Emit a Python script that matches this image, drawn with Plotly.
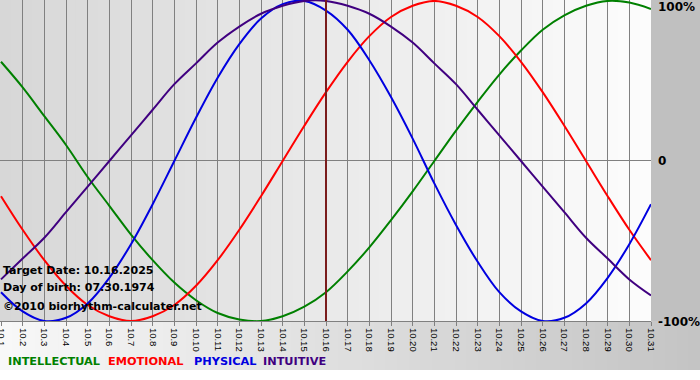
import plotly.graph_objects as go

dates = ["10.%d" % d for d in range(1, 32)]

intellectual = [0.62, 0.46, 0.28, 0.10, -0.10, -0.28, -0.46, -0.62, -0.76, -0.87,
                -0.95, -0.99, -1.00, -0.97, -0.91, -0.82, -0.69, -0.54, -0.37, -0.19,
                0.00, 0.19, 0.37, 0.54, 0.69, 0.82, 0.91, 0.97, 1.00, 0.99, 0.95]
emotional = [-0.22, -0.43, -0.62, -0.78, -0.90, -0.97, -1.00, -0.97, -0.90, -0.78,
             -0.62, -0.43, -0.22, 0.00, 0.22, 0.43, 0.62, 0.78, 0.90, 0.97,
             1.00, 0.97, 0.90, 0.78, 0.62, 0.43, 0.22, 0.00, -0.22, -0.43, -0.62]
physical = [-0.82, -0.94, -1.00, -0.98, -0.89, -0.73, -0.52, -0.27, 0.00, 0.27,
            0.52, 0.73, 0.89, 0.98, 1.00, 0.94, 0.82, 0.63, 0.40, 0.14,
            -0.14, -0.40, -0.63, -0.82, -0.94, -1.00, -0.98, -0.89, -0.73, -0.52, -0.27]
intuitive = [-0.74, -0.61, -0.48, -0.32, -0.16, 0.00, 0.16, 0.32, 0.48, 0.61,
             0.74, 0.84, 0.92, 0.97, 1.00, 1.00, 0.97, 0.92, 0.84, 0.74,
             0.61, 0.48, 0.32, 0.16, 0.00, -0.16, -0.32, -0.48, -0.61, -0.74, -0.84]

series_names = ["INTELLECTUAL", "EMOTIONAL", "PHYSICAL", "INTUITIVE"]
series_colors = ["#008000", "#ff0000", "#0000e0", "#400080"]
target_label = "10.16"
info_lines = ["Target Date: 10.16.2025", "Day of birth: 07.30.1974", "\u00a92010 biorhythm-calculater.net"]
right_labels = ["100%", "0", "-100%"]
right_values = [1, 0, -1]

W, H = 700, 380
L, R, T, B = 0, 49, 0, 59
plot_w = W - L - R
plot_h = H - T - B

fig = go.Figure()
for name, vals, col in zip(series_names, [intellectual, emotional, physical, intuitive], series_colors):
    fig.add_trace(go.Scatter(x=dates, y=vals, mode="lines", name=name,
                             line=dict(color=col, width=2, shape="spline", smoothing=1.0),
                             showlegend=False, hoverinfo="skip", cliponaxis=False))

shapes = []
# plot-area gradient (left grey -> right white)
N = 60
for i in range(N):
    c = int(round(215 + (252 - 215) * i / (N - 1)))
    shapes.append(dict(type="rect", xref="paper", yref="paper", x0=i / N, x1=min((i + 1.5) / N, 1),
                       y0=0, y1=1, fillcolor="rgb(%d,%d,%d)" % (c, c, c), line=dict(width=0), layer="below"))
# right strip
shapes.append(dict(type="rect", xref="paper", yref="paper", x0=1, x1=W / plot_w, y0=0, y1=1,
                   fillcolor="#c0c0c0", line=dict(width=0), layer="below"))
# bottom strip gradient (left light -> right grey)
strip_bottom = -(370 - plot_h) / plot_h
for i in range(N):
    c = int(round(248 + (196 - 248) * i / (N - 1)))
    x0 = (W / plot_w) * i / N
    x1 = (W / plot_w) * (i + 1.5) / N
    shapes.append(dict(type="rect", xref="paper", yref="paper", x0=x0, x1=min(x1, W / plot_w),
                       y0=strip_bottom, y1=0, fillcolor="rgb(%d,%d,%d)" % (c, c, c),
                       line=dict(width=0), layer="below"))
# target date line
ti = dates.index(target_label)
shapes.append(dict(type="line", xref="x", yref="paper", x0=ti, x1=ti, y0=0, y1=1,
                   line=dict(color="#7a1c1c", width=2), layer="above"))

annotations = []
for lab, v, ys in zip(right_labels, right_values, [-6, 0, -1]):
    annotations.append(dict(text="<b>%s</b>" % lab, xref="paper", yref="y", x=1, y=v,
                            xanchor="left", yanchor="middle", xshift=5, yshift=ys, showarrow=False,
                            font=dict(family="DejaVu Sans", size=12, color="#000000")))
for txt, py in zip(info_lines, [270, 287, 306]):
    annotations.append(dict(text="<b>%s</b>" % txt, xref="paper", yref="paper", x=0,
                            y=(plot_h - py) / plot_h, xanchor="left", yanchor="middle", xshift=1,
                            showarrow=False, font=dict(family="DejaVu Sans", size=11, color="#000000")))
for name, col, px in zip(series_names, series_colors, [6, 106, 192, 261]):
    annotations.append(dict(text="<b>%s</b>" % name, xref="paper", yref="paper", x=px / plot_w,
                            y=-(362 - plot_h) / plot_h, xanchor="left", yanchor="middle",
                            showarrow=False, font=dict(family="DejaVu Sans", size=11.3, color=col)))

fig.update_layout(
    width=W, height=H, margin=dict(l=L, r=R, t=T, b=B, pad=0, autoexpand=False),
    paper_bgcolor="#ffffff", plot_bgcolor="rgba(0,0,0,0)",
    shapes=shapes, annotations=annotations,
    xaxis=dict(type="category", range=[-0.046, len(dates) - 1], showgrid=True, gridcolor="#808080",
               gridwidth=1, tickangle=90, ticks="outside", ticklen=4, tickcolor="#808080",
               showline=True, linecolor="#808080", linewidth=1, zeroline=False, automargin=False,
               tickfont=dict(family="Liberation Sans", size=9.5, color="#000000"), fixedrange=True),
    yaxis=dict(range=[-1, 1.006], showgrid=False, zeroline=True, zerolinecolor="#808080",
               zerolinewidth=1, showticklabels=False, ticks="", showline=False, automargin=False,
               fixedrange=True),
)

fig.write_html("out.html", config={"displayModeBar": False, "staticPlot": True},
               post_script="document.body.style.margin='0';document.body.style.overflow='hidden';")
